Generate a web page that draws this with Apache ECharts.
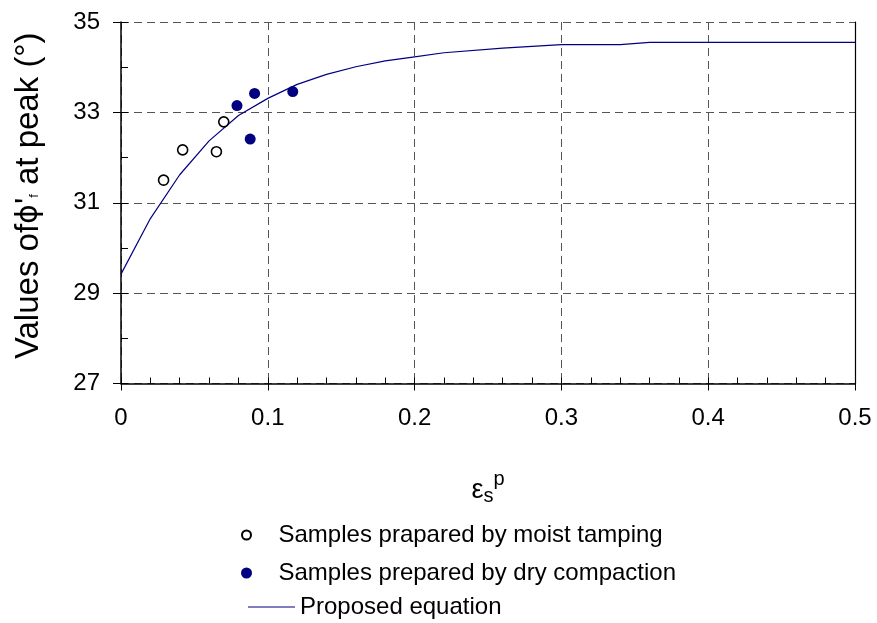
<!DOCTYPE html>
<html>
<head>
<meta charset="utf-8">
<script src="https://cdn.jsdelivr.net/npm/echarts@6/dist/echarts.min.js"></script>
<style>html,body{margin:0;padding:0;background:#fff}#c{width:877px;height:623px}</style>
</head>
<body>
<div id="c"></div>
<script>
// Data
const moistX = [0.029, 0.042, 0.065, 0.070];
const moistY = [31.50, 32.17, 32.13, 32.79];
const dryX = [0.079, 0.091, 0.088, 0.117];
const dryY = [33.15, 33.42, 32.41, 33.46];
const eqX = [0, 0.02, 0.04, 0.06, 0.08, 0.10, 0.12, 0.14, 0.16, 0.18, 0.20, 0.22, 0.26, 0.30, 0.34, 0.36, 0.50];
const eqY = [29.42, 30.65, 31.62, 32.37, 32.93, 33.31, 33.62, 33.84, 34.01, 34.14, 34.23, 34.32, 34.42, 34.50, 34.50, 34.55, 34.55];
const seriesNames = ['Samples prapared by moist tamping', 'Samples prepared by dry compaction', 'Proposed equation'];

const zip = (xs, ys) => xs.map((x, i) => [x, ys[i]]);
const FONT = 'Liberation Sans, Arial, sans-serif';
const NAVY = '#000080';

const chart = echarts.init(document.getElementById('c'), null, {renderer: 'canvas'});
const gridLine = {show: true, lineStyle: {color: '#555', type: [8, 5], width: 1}};
const legendText = {fontSize: 24, lineHeight: 26, fontFamily: FONT, color: '#000'};

chart.setOption({
  animation: false,
  backgroundColor: '#fff',
  grid: {left: 121, right: 22, top: 22, bottom: 239.5, containLabel: false},
  xAxis: [{
    type: 'value', min: 0, max: 0.5, interval: 0.1,
    axisLine: {show: true, lineStyle: {color: '#000', width: 1.5}},
    axisTick: {show: true, inside: true, length: 6, lineStyle: {color: '#000'}},
    minorTick: {show: true, splitNumber: 5, length: 6, lineStyle: {color: '#000'}},
    splitLine: gridLine,
    axisLabel: {color: '#000', fontSize: 24, fontFamily: FONT, margin: 23},
    name: '{e|ε}{s|s}{p|p}',
    nameLocation: 'middle', nameGap: 86,
    nameTextStyle: {
      rich: {
        e: {fontSize: 27, fontFamily: FONT, color: '#000'},
        s: {fontSize: 20, fontFamily: FONT, color: '#000', padding: [12, 0, 0, 0]},
        p: {fontSize: 20, fontFamily: FONT, color: '#000', padding: [0, 0, 22, 0]}
      }
    }
  }, {
    type: 'value', min: 0, max: 0.5, interval: 0.1, position: 'bottom', gridIndex: 0,
    axisLine: {show: false},
    axisTick: {show: true, inside: false, length: 7, lineStyle: {color: '#000'}},
    axisLabel: {show: false}, splitLine: {show: false}
  }],
  yAxis: [{
    type: 'value', min: 27, max: 35, interval: 2,
    axisLine: {show: true, lineStyle: {color: '#000', width: 1.5}},
    axisTick: {show: true, inside: true, length: 7, lineStyle: {color: '#000'}},
    minorTick: {show: true, splitNumber: 2, length: 7, lineStyle: {color: '#000'}},
    splitLine: gridLine,
    axisLabel: {color: '#000', fontSize: 24, fontFamily: FONT, margin: 21},
    name: '{a|Values of}{b|ϕ}{a|\'}{c|f}{a| at peak (°)}',
    nameLocation: 'middle', nameGap: 74, nameRotate: 90,
    nameTextStyle: {
      padding: [0, 0, 0, 14],
      rich: {
        a: {fontSize: 33, lineHeight: 36, fontFamily: FONT, color: '#000'},
        b: {fontSize: 30, lineHeight: 36, fontFamily: 'DejaVu Sans, sans-serif', color: '#000'},
        c: {fontSize: 13, fontFamily: FONT, color: '#000', padding: [10, 0, 0, 0]}
      }
    }
  }, {
    type: 'value', min: 27, max: 35, interval: 2, position: 'left',
    axisLine: {show: false},
    axisTick: {show: true, inside: false, length: 8, lineStyle: {color: '#000'}},
    axisLabel: {show: false}, splitLine: {show: false}
  }, {
    type: 'value', min: 27, max: 35, interval: 2, position: 'right',
    axisLine: {show: true, lineStyle: {color: '#000', width: 1.2}},
    axisTick: {show: false}, axisLabel: {show: false}, splitLine: {show: false}
  }],
  legend: [{
    data: [seriesNames[0]], orient: 'vertical', left: 241, top: 522,
    itemWidth: 54, itemHeight: 9, padding: 0, textStyle: legendText
  }, {
    data: [seriesNames[1]], orient: 'vertical', left: 241, top: 560,
    itemWidth: 54, itemHeight: 11, padding: 0, textStyle: legendText
  }, {
    data: [seriesNames[2]], orient: 'vertical', left: 248, top: 594,
    itemWidth: 47, itemHeight: 1.2, icon: 'rect', padding: 0, textStyle: legendText
  }],
  series: [{
    name: seriesNames[0], type: 'scatter', data: zip(moistX, moistY),
    symbol: 'circle', symbolSize: 10,
    itemStyle: {color: '#fff', borderColor: '#000', borderWidth: 1.6, opacity: 1},
    z: 3
  }, {
    name: seriesNames[1], type: 'scatter', data: zip(dryX, dryY),
    symbol: 'circle', symbolSize: 11,
    itemStyle: {color: NAVY, borderColor: NAVY, borderWidth: 0, opacity: 1},
    z: 3
  }, {
    name: seriesNames[2], type: 'line', data: zip(eqX, eqY),
    showSymbol: false, symbol: 'none',
    lineStyle: {color: NAVY, width: 1.2},
    itemStyle: {color: NAVY},
    z: 2
  }]
});
</script>
</body>
</html>
